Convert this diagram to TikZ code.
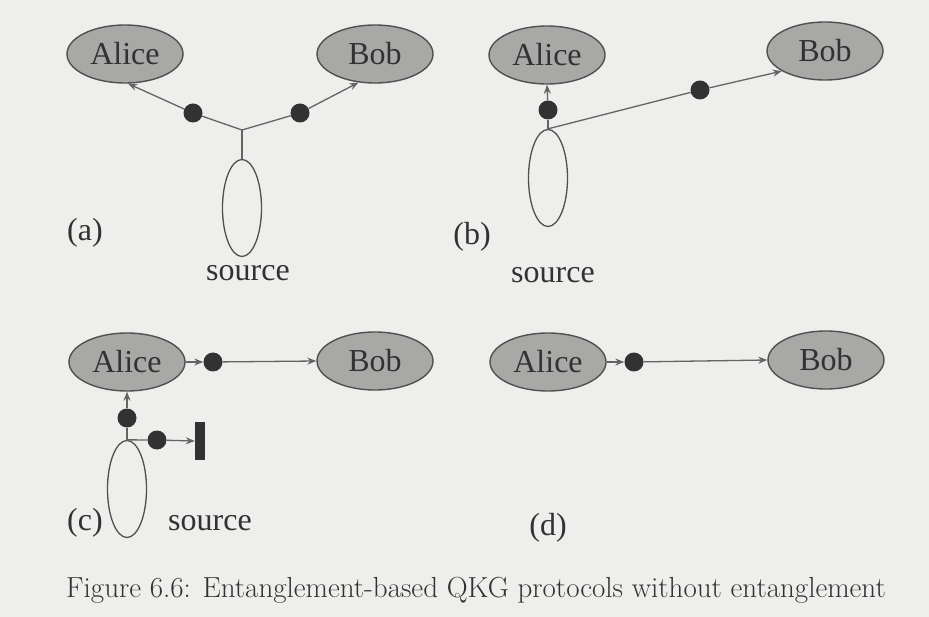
\documentclass[tikz,border=0pt]{standalone}
\usepackage{fontspec}
\newfontfamily\timesf{Liberation Serif}
\usetikzlibrary{shapes.geometric,arrows.meta}
\definecolor{bg}{RGB}{238,238,236}
\definecolor{efill}{RGB}{168,168,166}
\definecolor{edraw}{RGB}{80,80,80}
\definecolor{txt}{RGB}{50,50,50}
\definecolor{lin}{RGB}{100,100,100}
\definecolor{dotc}{RGB}{50,50,50}
\begin{document}
\begin{tikzpicture}[x=1pt,y=-1pt,
  party/.style={ellipse,draw=edraw,fill=efill,line width=1.4pt,minimum width=116pt,minimum height=58pt,inner sep=0pt,font=\timesf\fontsize{32}{36}\selectfont,text=txt},
  src/.style={ellipse,draw=edraw,line width=1.3pt,minimum width=39pt,minimum height=97pt,inner sep=0pt},
  photon/.style={circle,fill=dotc,minimum size=19pt,inner sep=0pt},
  lbl/.style={font=\timesf\fontsize{32}{36}\selectfont,text=txt,inner sep=0pt},
  conn/.style={draw=lin,line width=1.3pt},
  arr/.style={conn,-{Stealth[length=9pt,width=7pt]}},
  barstyle/.style={fill=dotc,minimum width=10pt,minimum height=38pt,inner sep=0pt},
]
\fill[bg] (0,0) rectangle (929,617);
\useasboundingbox (0,0) rectangle (929,617);
% (a)
\node[party] (aA) at (125,54) {Alice};
\node[party] (aB) at (375,54) {Bob};
\node[src] (aS) at (242,208) {};
\coordinate (aJ) at (242,130);
\node[photon] (ad1) at (193,113) {};
\node[photon] (ad2) at (300,113) {};
\draw[conn] (aS.north) -- (aJ);
\draw[conn] (aJ) -- (ad1);
\draw[conn] (aJ) -- (ad2);
\draw[arr] (ad1) -- (aA.-84);
\draw[arr] (ad2) -- (aB.-120);
\node[lbl] (alab) at (85,233) {(a)};
\node[lbl] (asrc) at (248,273) {source};
% (b)
\node[party] (bA) at (547,55) {Alice};
\node[party] (bB) at (825,51) {Bob};
\node[src] (bS) at (548,178) {};
\node[photon] (bd1) at (548,110) {};
\node[photon] (bd2) at (700,90) {};
\draw[conn] (bS.north) -- (bd1);
\draw[arr] (bd1) -- (bA.south);
\draw[conn] (bS.north) -- (bd2);
\draw[arr] (bd2) -- (bB.-155);
\node[lbl] (blab) at (472,237) {(b)};
\node[lbl] (bsrc) at (553,275) {source};
% (c)
\node[party] (cA) at (127,362) {Alice};
\node[party] (cB) at (375,361) {Bob};
\node[photon] (cd1) at (213,362) {};
\draw[arr] (cA.east) -- (cd1);
\draw[arr] (cd1) -- (cB.west);
\node[src] (cS) at (127,489) {};
\node[photon] (cd2) at (127,418) {};
\draw[conn] (cS.north) -- (cd2);
\draw[arr] (cd2) -- (cA.south);
\node[photon] (cd3) at (157,440) {};
\node[barstyle] (cbar) at (200,441) {};
\draw[conn] (cS.north) -- (cd3);
\draw[arr] (cd3) -- (cbar.west);
\node[lbl] (clab) at (85,523) {(c)};
\node[lbl] (csrc) at (210,523) {source};
% (d)
\node[party] (dA) at (548,362) {Alice};
\node[party] (dB) at (826,360) {Bob};
\node[photon] (dd) at (634,362) {};
\draw[arr] (dA.east) -- (dd);
\draw[arr] (dd) -- (dB.west);
\node[lbl] (dlab) at (548,528) {(d)};
% caption
\node[font=\fontsize{29}{33}\selectfont,text=txt,inner sep=0pt] (cap) at (476,590) {Figure 6.6: Entanglement-based QKG protocols without entanglement};
\end{tikzpicture}
\end{document}
